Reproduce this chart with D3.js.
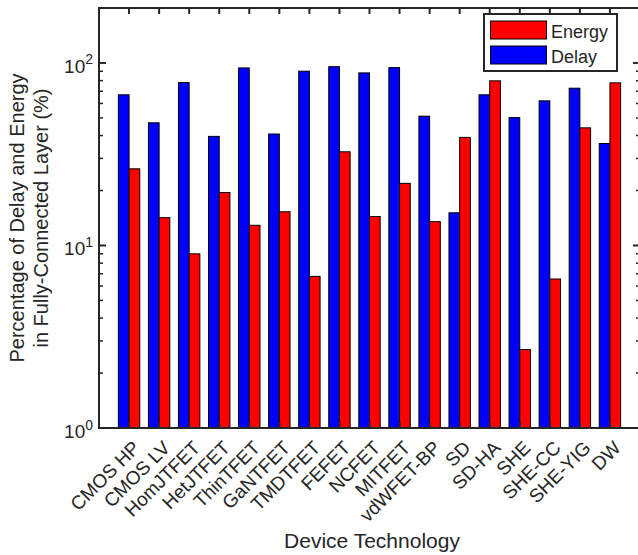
<!DOCTYPE html>
<html>
<head>
<meta charset="utf-8">
<script src="https://cdn.jsdelivr.net/npm/d3@7"></script>
<style>
  html, body { margin: 0; padding: 0; background: #ffffff; }
  svg { display: block; }
  text { font-family: "Liberation Sans", Arial, Helvetica, sans-serif; fill: #262626; }
</style>
</head>
<body>
<svg id="chart" width="638" height="555"></svg>
<script>
// ---- data ----
const categories = ["CMOS HP","CMOS LV","HomJTFET","HetJTFET","ThinTFET","GaNTFET","TMDTFET","FEFET","NCFET","MITFET","vdWFET-BP","SD","SD-HA","SHE","SHE-CC","SHE-YIG","DW"];
const delayValues  = [66.9, 47.0, 78.0, 39.6, 93.9, 40.8, 90.1, 95.4, 88.2, 94.3, 51.1, 15.1, 66.9, 50.2, 62.0, 72.7, 36.2];
const energyValues = [26.3, 14.2, 9.0, 19.5, 12.9, 15.3, 6.77, 32.6, 14.4, 21.9, 13.5, 39.1, 79.8, 2.69, 6.55, 44.1, 77.8];
const seriesNames  = ["Energy", "Delay"];
const seriesColors = {"Energy": "#ff0000", "Delay": "#0000ff"};
const yMajorTicks  = [1, 10, 100];
const yTickExponents = ["0", "1", "2"];
const xAxisTitle = "Device Technology";
const yAxisTitle = ["Percentage of Delay and Energy", "in Fully-Connected Layer (%)"];

// ---- layout ----
const svg = d3.select("#chart");
const plot = {left: 99, right: 640, top: 8, bottom: 428};
const axisColor = "#262626";

const x = d3.scaleLinear().domain([0, categories.length + 1]).range([plot.left, plot.right]);
const y = d3.scaleLog().domain([1, 200]).range([plot.bottom, plot.top]);
const barW = x(0.356) - x(0);

// bars: Delay (blue) left of tick, Energy (red) right of tick
const rows = categories.map((c, i) => ({c, i: i + 1, delay: delayValues[i], energy: energyValues[i]}));
const gBars = svg.append("g");
gBars.selectAll("rect.delay").data(rows).join("rect")
  .attr("class", "delay")
  .attr("x", d => x(d.i) - barW).attr("width", barW)
  .attr("y", d => y(d.delay)).attr("height", d => y(1) - y(d.delay))
  .attr("fill", seriesColors["Delay"]).attr("stroke", "#000").attr("stroke-width", 1);
gBars.selectAll("rect.energy").data(rows).join("rect")
  .attr("class", "energy")
  .attr("x", d => x(d.i)).attr("width", barW)
  .attr("y", d => y(d.energy)).attr("height", d => y(1) - y(d.energy))
  .attr("fill", seriesColors["Energy"]).attr("stroke", "#000").attr("stroke-width", 1);

// ---- axes box ----
const gAx = svg.append("g").attr("stroke", axisColor).attr("stroke-width", 2);
gAx.append("line").attr("x1", plot.left).attr("x2", plot.right + 5).attr("y1", plot.top).attr("y2", plot.top);
gAx.append("line").attr("x1", plot.left).attr("x2", plot.right + 5).attr("y1", plot.bottom).attr("y2", plot.bottom);
gAx.append("line").attr("x1", plot.left).attr("x2", plot.left).attr("y1", plot.top - 1).attr("y2", plot.bottom + 1);
gAx.append("line").attr("x1", plot.right).attr("x2", plot.right).attr("y1", plot.top - 1).attr("y2", plot.bottom + 1);

// x ticks (bottom and top, inward)
const xTickLen = 6;
rows.forEach(d => {
  gAx.append("line").attr("x1", x(d.i)).attr("x2", x(d.i)).attr("y1", plot.bottom).attr("y2", plot.bottom - xTickLen);
  gAx.append("line").attr("x1", x(d.i)).attr("x2", x(d.i)).attr("y1", plot.top).attr("y2", plot.top + xTickLen);
});

// y ticks (left and right, inward)
const minorTicks = [];
[1, 10, 100].forEach(dec => { for (let k = 2; k <= 9; k++) { const v = dec * k; if (v < 200) minorTicks.push(v); } });
const gYt = svg.append("g").attr("stroke", axisColor).attr("stroke-width", 1.5);
yMajorTicks.forEach(v => {
  gYt.append("line").attr("x1", plot.left).attr("x2", plot.left + 7).attr("y1", y(v)).attr("y2", y(v)).attr("stroke-width", 2);
  gYt.append("line").attr("x1", plot.right).attr("x2", plot.right - 7).attr("y1", y(v)).attr("y2", y(v)).attr("stroke-width", 2);
});
minorTicks.forEach(v => {
  gYt.append("line").attr("x1", plot.left).attr("x2", plot.left + 4).attr("y1", y(v)).attr("y2", y(v));
  gYt.append("line").attr("x1", plot.right).attr("x2", plot.right - 4).attr("y1", y(v)).attr("y2", y(v));
});

// y tick labels 10^n
yMajorTicks.forEach((v, i) => {
  const t = svg.append("text")
    .attr("x", plot.left - 6).attr("y", y(v) + 10)
    .attr("text-anchor", "end").attr("font-size", 19);
  t.append("tspan").text("10");
  t.append("tspan").attr("font-size", 14).attr("dy", -8.5).text(yTickExponents[i]);
});

// x tick labels rotated 45°
rows.forEach(d => {
  svg.append("text")
    .attr("transform", `translate(${x(d.i) + 12},${plot.bottom + 21}) rotate(-45)`)
    .attr("text-anchor", "end").attr("font-size", 19)
    .text(d.c);
});

// axis titles
svg.append("text").attr("x", 372).attr("y", 548).attr("text-anchor", "middle").attr("font-size", 21).text(xAxisTitle);
yAxisTitle.forEach((line, i) => {
  svg.append("text")
    .attr("transform", `translate(${24 + i * 24},${(plot.top + plot.bottom) / 2}) rotate(-90)`)
    .attr("text-anchor", "middle").attr("font-size", 20).text(line);
});

// ---- legend ----
const lg = svg.append("g");
lg.append("rect").attr("x", 484).attr("y", 14).attr("width", 133).attr("height", 57)
  .attr("fill", "#fff").attr("stroke", axisColor).attr("stroke-width", 2);
seriesNames.forEach((name, i) => {
  lg.append("rect").attr("x", 490.5).attr("y", 21 + i * 25).attr("width", 56).attr("height", 18)
    .attr("fill", seriesColors[name]).attr("stroke", "#000").attr("stroke-width", 1);
  lg.append("text").attr("x", 551).attr("y", 37.5 + i * 25.5).attr("font-size", 18).text(name);
});
</script>
</body>
</html>
